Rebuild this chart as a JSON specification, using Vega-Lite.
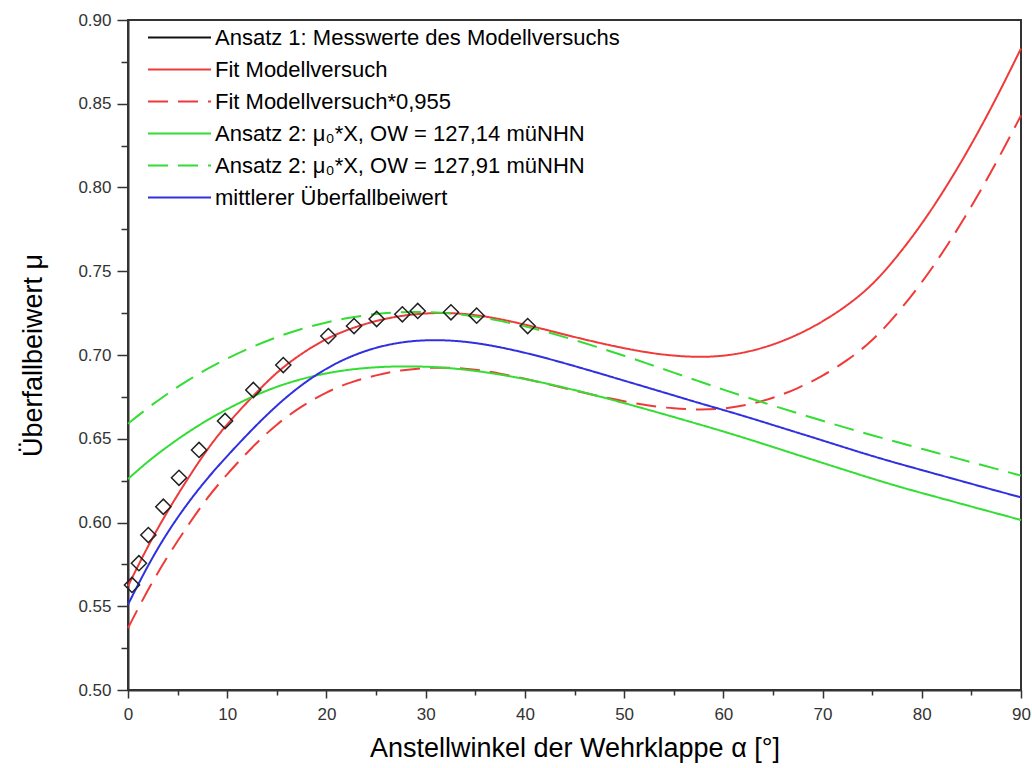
{
  "$schema": "https://vega.github.io/schema/vega-lite/v6.json",
  "width": 893,
  "height": 670,
  "autosize": {"type": "none"},
  "padding": {"left": 128, "top": 20, "right": 11, "bottom": 78},
  "background": "white",
  "config": {
    "font": "Liberation Sans",
    "view": {"stroke": "#333333", "strokeWidth": 2}
  },
  "datasets": {
    "curves": [
      {"series": "Fit Modellversuch", "x": 0, "y": 0.562},
      {"series": "Fit Modellversuch", "x": 2, "y": 0.586},
      {"series": "Fit Modellversuch", "x": 4, "y": 0.607},
      {"series": "Fit Modellversuch", "x": 6, "y": 0.626},
      {"series": "Fit Modellversuch", "x": 8, "y": 0.644},
      {"series": "Fit Modellversuch", "x": 10, "y": 0.659},
      {"series": "Fit Modellversuch", "x": 12.5, "y": 0.675},
      {"series": "Fit Modellversuch", "x": 15, "y": 0.69},
      {"series": "Fit Modellversuch", "x": 17.5, "y": 0.701},
      {"series": "Fit Modellversuch", "x": 20, "y": 0.71},
      {"series": "Fit Modellversuch", "x": 22.5, "y": 0.716},
      {"series": "Fit Modellversuch", "x": 25, "y": 0.7205},
      {"series": "Fit Modellversuch", "x": 27.5, "y": 0.7235},
      {"series": "Fit Modellversuch", "x": 30, "y": 0.725},
      {"series": "Fit Modellversuch", "x": 32.5, "y": 0.7252},
      {"series": "Fit Modellversuch", "x": 35, "y": 0.724},
      {"series": "Fit Modellversuch", "x": 37.5, "y": 0.7215},
      {"series": "Fit Modellversuch", "x": 40, "y": 0.7182},
      {"series": "Fit Modellversuch", "x": 42.5, "y": 0.7145},
      {"series": "Fit Modellversuch", "x": 45, "y": 0.7107},
      {"series": "Fit Modellversuch", "x": 47.5, "y": 0.7072},
      {"series": "Fit Modellversuch", "x": 50, "y": 0.704},
      {"series": "Fit Modellversuch", "x": 52.5, "y": 0.7013},
      {"series": "Fit Modellversuch", "x": 55, "y": 0.6995},
      {"series": "Fit Modellversuch", "x": 57.5, "y": 0.6987},
      {"series": "Fit Modellversuch", "x": 60, "y": 0.6993},
      {"series": "Fit Modellversuch", "x": 62.5, "y": 0.7018},
      {"series": "Fit Modellversuch", "x": 65, "y": 0.706},
      {"series": "Fit Modellversuch", "x": 67.5, "y": 0.712},
      {"series": "Fit Modellversuch", "x": 70, "y": 0.7198},
      {"series": "Fit Modellversuch", "x": 72.5, "y": 0.7295},
      {"series": "Fit Modellversuch", "x": 75, "y": 0.7415},
      {"series": "Fit Modellversuch", "x": 77.5, "y": 0.7585},
      {"series": "Fit Modellversuch", "x": 80, "y": 0.778},
      {"series": "Fit Modellversuch", "x": 82.5, "y": 0.8005},
      {"series": "Fit Modellversuch", "x": 85, "y": 0.8255},
      {"series": "Fit Modellversuch", "x": 87.5, "y": 0.853},
      {"series": "Fit Modellversuch", "x": 90, "y": 0.883},

      {"series": "Fit Modellversuch*0,955", "x": 0, "y": 0.537},
      {"series": "Fit Modellversuch*0,955", "x": 2, "y": 0.56},
      {"series": "Fit Modellversuch*0,955", "x": 4, "y": 0.58},
      {"series": "Fit Modellversuch*0,955", "x": 6, "y": 0.598},
      {"series": "Fit Modellversuch*0,955", "x": 8, "y": 0.615},
      {"series": "Fit Modellversuch*0,955", "x": 10, "y": 0.629},
      {"series": "Fit Modellversuch*0,955", "x": 12.5, "y": 0.645},
      {"series": "Fit Modellversuch*0,955", "x": 15, "y": 0.659},
      {"series": "Fit Modellversuch*0,955", "x": 17.5, "y": 0.6695},
      {"series": "Fit Modellversuch*0,955", "x": 20, "y": 0.678},
      {"series": "Fit Modellversuch*0,955", "x": 22.5, "y": 0.684},
      {"series": "Fit Modellversuch*0,955", "x": 25, "y": 0.688},
      {"series": "Fit Modellversuch*0,955", "x": 27.5, "y": 0.691},
      {"series": "Fit Modellversuch*0,955", "x": 30, "y": 0.6924},
      {"series": "Fit Modellversuch*0,955", "x": 32.5, "y": 0.6926},
      {"series": "Fit Modellversuch*0,955", "x": 35, "y": 0.6914},
      {"series": "Fit Modellversuch*0,955", "x": 37.5, "y": 0.689},
      {"series": "Fit Modellversuch*0,955", "x": 40, "y": 0.6859},
      {"series": "Fit Modellversuch*0,955", "x": 42.5, "y": 0.6823},
      {"series": "Fit Modellversuch*0,955", "x": 45, "y": 0.6787},
      {"series": "Fit Modellversuch*0,955", "x": 47.5, "y": 0.6754},
      {"series": "Fit Modellversuch*0,955", "x": 50, "y": 0.6723},
      {"series": "Fit Modellversuch*0,955", "x": 52.5, "y": 0.6697},
      {"series": "Fit Modellversuch*0,955", "x": 55, "y": 0.668},
      {"series": "Fit Modellversuch*0,955", "x": 57.5, "y": 0.6673},
      {"series": "Fit Modellversuch*0,955", "x": 60, "y": 0.6678},
      {"series": "Fit Modellversuch*0,955", "x": 62.5, "y": 0.6702},
      {"series": "Fit Modellversuch*0,955", "x": 65, "y": 0.6742},
      {"series": "Fit Modellversuch*0,955", "x": 67.5, "y": 0.68},
      {"series": "Fit Modellversuch*0,955", "x": 70, "y": 0.6874},
      {"series": "Fit Modellversuch*0,955", "x": 72.5, "y": 0.6967},
      {"series": "Fit Modellversuch*0,955", "x": 75, "y": 0.7081},
      {"series": "Fit Modellversuch*0,955", "x": 77.5, "y": 0.7244},
      {"series": "Fit Modellversuch*0,955", "x": 80, "y": 0.743},
      {"series": "Fit Modellversuch*0,955", "x": 82.5, "y": 0.7645},
      {"series": "Fit Modellversuch*0,955", "x": 85, "y": 0.7884},
      {"series": "Fit Modellversuch*0,955", "x": 87.5, "y": 0.8146},
      {"series": "Fit Modellversuch*0,955", "x": 90, "y": 0.843},

      {"series": "Ansatz 2: μ₀*X, OW = 127,14 müNHN", "x": 0, "y": 0.626},
      {"series": "Ansatz 2: μ₀*X, OW = 127,14 müNHN", "x": 2, "y": 0.6365},
      {"series": "Ansatz 2: μ₀*X, OW = 127,14 müNHN", "x": 4, "y": 0.6455},
      {"series": "Ansatz 2: μ₀*X, OW = 127,14 müNHN", "x": 6, "y": 0.6538},
      {"series": "Ansatz 2: μ₀*X, OW = 127,14 müNHN", "x": 8, "y": 0.6612},
      {"series": "Ansatz 2: μ₀*X, OW = 127,14 müNHN", "x": 10, "y": 0.6678},
      {"series": "Ansatz 2: μ₀*X, OW = 127,14 müNHN", "x": 12.5, "y": 0.6752},
      {"series": "Ansatz 2: μ₀*X, OW = 127,14 müNHN", "x": 15, "y": 0.6812},
      {"series": "Ansatz 2: μ₀*X, OW = 127,14 müNHN", "x": 17.5, "y": 0.6858},
      {"series": "Ansatz 2: μ₀*X, OW = 127,14 müNHN", "x": 20, "y": 0.6892},
      {"series": "Ansatz 2: μ₀*X, OW = 127,14 müNHN", "x": 22.5, "y": 0.6915},
      {"series": "Ansatz 2: μ₀*X, OW = 127,14 müNHN", "x": 25, "y": 0.6928},
      {"series": "Ansatz 2: μ₀*X, OW = 127,14 müNHN", "x": 27.5, "y": 0.6933},
      {"series": "Ansatz 2: μ₀*X, OW = 127,14 müNHN", "x": 30, "y": 0.6931},
      {"series": "Ansatz 2: μ₀*X, OW = 127,14 müNHN", "x": 32.5, "y": 0.6922},
      {"series": "Ansatz 2: μ₀*X, OW = 127,14 müNHN", "x": 35, "y": 0.6906},
      {"series": "Ansatz 2: μ₀*X, OW = 127,14 müNHN", "x": 37.5, "y": 0.6884},
      {"series": "Ansatz 2: μ₀*X, OW = 127,14 müNHN", "x": 40, "y": 0.6857},
      {"series": "Ansatz 2: μ₀*X, OW = 127,14 müNHN", "x": 42.5, "y": 0.6826},
      {"series": "Ansatz 2: μ₀*X, OW = 127,14 müNHN", "x": 45, "y": 0.6791},
      {"series": "Ansatz 2: μ₀*X, OW = 127,14 müNHN", "x": 47.5, "y": 0.6753},
      {"series": "Ansatz 2: μ₀*X, OW = 127,14 müNHN", "x": 50, "y": 0.6713},
      {"series": "Ansatz 2: μ₀*X, OW = 127,14 müNHN", "x": 52.5, "y": 0.6672},
      {"series": "Ansatz 2: μ₀*X, OW = 127,14 müNHN", "x": 55, "y": 0.663},
      {"series": "Ansatz 2: μ₀*X, OW = 127,14 müNHN", "x": 57.5, "y": 0.6587},
      {"series": "Ansatz 2: μ₀*X, OW = 127,14 müNHN", "x": 60, "y": 0.6544},
      {"series": "Ansatz 2: μ₀*X, OW = 127,14 müNHN", "x": 62.5, "y": 0.6498},
      {"series": "Ansatz 2: μ₀*X, OW = 127,14 müNHN", "x": 65, "y": 0.6451},
      {"series": "Ansatz 2: μ₀*X, OW = 127,14 müNHN", "x": 67.5, "y": 0.6403},
      {"series": "Ansatz 2: μ₀*X, OW = 127,14 müNHN", "x": 70, "y": 0.6356},
      {"series": "Ansatz 2: μ₀*X, OW = 127,14 müNHN", "x": 72.5, "y": 0.6309},
      {"series": "Ansatz 2: μ₀*X, OW = 127,14 müNHN", "x": 75, "y": 0.6262},
      {"series": "Ansatz 2: μ₀*X, OW = 127,14 müNHN", "x": 77.5, "y": 0.6217},
      {"series": "Ansatz 2: μ₀*X, OW = 127,14 müNHN", "x": 80, "y": 0.6176},
      {"series": "Ansatz 2: μ₀*X, OW = 127,14 müNHN", "x": 82.5, "y": 0.6136},
      {"series": "Ansatz 2: μ₀*X, OW = 127,14 müNHN", "x": 85, "y": 0.6095},
      {"series": "Ansatz 2: μ₀*X, OW = 127,14 müNHN", "x": 87.5, "y": 0.6055},
      {"series": "Ansatz 2: μ₀*X, OW = 127,14 müNHN", "x": 90, "y": 0.6015},

      {"series": "Ansatz 2: μ₀*X, OW = 127,91 müNHN", "x": 0, "y": 0.659},
      {"series": "Ansatz 2: μ₀*X, OW = 127,91 müNHN", "x": 2, "y": 0.6685},
      {"series": "Ansatz 2: μ₀*X, OW = 127,91 müNHN", "x": 4, "y": 0.677},
      {"series": "Ansatz 2: μ₀*X, OW = 127,91 müNHN", "x": 6, "y": 0.6848},
      {"series": "Ansatz 2: μ₀*X, OW = 127,91 müNHN", "x": 8, "y": 0.6918},
      {"series": "Ansatz 2: μ₀*X, OW = 127,91 müNHN", "x": 10, "y": 0.698},
      {"series": "Ansatz 2: μ₀*X, OW = 127,91 müNHN", "x": 12.5, "y": 0.7049},
      {"series": "Ansatz 2: μ₀*X, OW = 127,91 müNHN", "x": 15, "y": 0.7108},
      {"series": "Ansatz 2: μ₀*X, OW = 127,91 müNHN", "x": 17.5, "y": 0.7157},
      {"series": "Ansatz 2: μ₀*X, OW = 127,91 müNHN", "x": 20, "y": 0.7196},
      {"series": "Ansatz 2: μ₀*X, OW = 127,91 müNHN", "x": 22.5, "y": 0.7226},
      {"series": "Ansatz 2: μ₀*X, OW = 127,91 müNHN", "x": 25, "y": 0.7246},
      {"series": "Ansatz 2: μ₀*X, OW = 127,91 müNHN", "x": 27.5, "y": 0.7257},
      {"series": "Ansatz 2: μ₀*X, OW = 127,91 müNHN", "x": 30, "y": 0.7258},
      {"series": "Ansatz 2: μ₀*X, OW = 127,91 müNHN", "x": 32.5, "y": 0.7249},
      {"series": "Ansatz 2: μ₀*X, OW = 127,91 müNHN", "x": 35, "y": 0.7231},
      {"series": "Ansatz 2: μ₀*X, OW = 127,91 müNHN", "x": 37.5, "y": 0.7205},
      {"series": "Ansatz 2: μ₀*X, OW = 127,91 müNHN", "x": 40, "y": 0.7172},
      {"series": "Ansatz 2: μ₀*X, OW = 127,91 müNHN", "x": 42.5, "y": 0.7133},
      {"series": "Ansatz 2: μ₀*X, OW = 127,91 müNHN", "x": 45, "y": 0.709},
      {"series": "Ansatz 2: μ₀*X, OW = 127,91 müNHN", "x": 47.5, "y": 0.7044},
      {"series": "Ansatz 2: μ₀*X, OW = 127,91 müNHN", "x": 50, "y": 0.6996},
      {"series": "Ansatz 2: μ₀*X, OW = 127,91 müNHN", "x": 52.5, "y": 0.6946},
      {"series": "Ansatz 2: μ₀*X, OW = 127,91 müNHN", "x": 55, "y": 0.6895},
      {"series": "Ansatz 2: μ₀*X, OW = 127,91 müNHN", "x": 57.5, "y": 0.6844},
      {"series": "Ansatz 2: μ₀*X, OW = 127,91 müNHN", "x": 60, "y": 0.6793},
      {"series": "Ansatz 2: μ₀*X, OW = 127,91 müNHN", "x": 62.5, "y": 0.6745},
      {"series": "Ansatz 2: μ₀*X, OW = 127,91 müNHN", "x": 65, "y": 0.6698},
      {"series": "Ansatz 2: μ₀*X, OW = 127,91 müNHN", "x": 67.5, "y": 0.6652},
      {"series": "Ansatz 2: μ₀*X, OW = 127,91 müNHN", "x": 70, "y": 0.6607},
      {"series": "Ansatz 2: μ₀*X, OW = 127,91 müNHN", "x": 72.5, "y": 0.6563},
      {"series": "Ansatz 2: μ₀*X, OW = 127,91 müNHN", "x": 75, "y": 0.6521},
      {"series": "Ansatz 2: μ₀*X, OW = 127,91 müNHN", "x": 77.5, "y": 0.648},
      {"series": "Ansatz 2: μ₀*X, OW = 127,91 müNHN", "x": 80, "y": 0.644},
      {"series": "Ansatz 2: μ₀*X, OW = 127,91 müNHN", "x": 82.5, "y": 0.64},
      {"series": "Ansatz 2: μ₀*X, OW = 127,91 müNHN", "x": 85, "y": 0.636},
      {"series": "Ansatz 2: μ₀*X, OW = 127,91 müNHN", "x": 87.5, "y": 0.632},
      {"series": "Ansatz 2: μ₀*X, OW = 127,91 müNHN", "x": 90, "y": 0.628},

      {"series": "mittlerer Überfallbeiwert", "x": 0, "y": 0.551},
      {"series": "mittlerer Überfallbeiwert", "x": 2, "y": 0.5745},
      {"series": "mittlerer Überfallbeiwert", "x": 4, "y": 0.5945},
      {"series": "mittlerer Überfallbeiwert", "x": 6, "y": 0.6115},
      {"series": "mittlerer Überfallbeiwert", "x": 8, "y": 0.6265},
      {"series": "mittlerer Überfallbeiwert", "x": 10, "y": 0.6398},
      {"series": "mittlerer Überfallbeiwert", "x": 12.5, "y": 0.6556},
      {"series": "mittlerer Überfallbeiwert", "x": 15, "y": 0.6701},
      {"series": "mittlerer Überfallbeiwert", "x": 17.5, "y": 0.6824},
      {"series": "mittlerer Überfallbeiwert", "x": 20, "y": 0.6922},
      {"series": "mittlerer Überfallbeiwert", "x": 22.5, "y": 0.6995},
      {"series": "mittlerer Überfallbeiwert", "x": 25, "y": 0.7046},
      {"series": "mittlerer Überfallbeiwert", "x": 27.5, "y": 0.7077},
      {"series": "mittlerer Überfallbeiwert", "x": 30, "y": 0.709},
      {"series": "mittlerer Überfallbeiwert", "x": 32.5, "y": 0.7088},
      {"series": "mittlerer Überfallbeiwert", "x": 35, "y": 0.7073},
      {"series": "mittlerer Überfallbeiwert", "x": 37.5, "y": 0.7047},
      {"series": "mittlerer Überfallbeiwert", "x": 40, "y": 0.7014},
      {"series": "mittlerer Überfallbeiwert", "x": 42.5, "y": 0.6976},
      {"series": "mittlerer Überfallbeiwert", "x": 45, "y": 0.6934},
      {"series": "mittlerer Überfallbeiwert", "x": 47.5, "y": 0.6891},
      {"series": "mittlerer Überfallbeiwert", "x": 50, "y": 0.6847},
      {"series": "mittlerer Überfallbeiwert", "x": 52.5, "y": 0.6803},
      {"series": "mittlerer Überfallbeiwert", "x": 55, "y": 0.6759},
      {"series": "mittlerer Überfallbeiwert", "x": 57.5, "y": 0.6714},
      {"series": "mittlerer Überfallbeiwert", "x": 60, "y": 0.6672},
      {"series": "mittlerer Überfallbeiwert", "x": 62.5, "y": 0.6628},
      {"series": "mittlerer Überfallbeiwert", "x": 65, "y": 0.6582},
      {"series": "mittlerer Überfallbeiwert", "x": 67.5, "y": 0.6536},
      {"series": "mittlerer Überfallbeiwert", "x": 70, "y": 0.649},
      {"series": "mittlerer Überfallbeiwert", "x": 72.5, "y": 0.6443},
      {"series": "mittlerer Überfallbeiwert", "x": 75, "y": 0.6397},
      {"series": "mittlerer Überfallbeiwert", "x": 77.5, "y": 0.6354},
      {"series": "mittlerer Überfallbeiwert", "x": 80, "y": 0.6313},
      {"series": "mittlerer Überfallbeiwert", "x": 82.5, "y": 0.6272},
      {"series": "mittlerer Überfallbeiwert", "x": 85, "y": 0.6231},
      {"series": "mittlerer Überfallbeiwert", "x": 87.5, "y": 0.619},
      {"series": "mittlerer Überfallbeiwert", "x": 90, "y": 0.615}
    ],
    "points": [
      {"x": 0.4, "y": 0.5627},
      {"x": 1.1, "y": 0.5757},
      {"x": 2.05, "y": 0.5925},
      {"x": 3.56, "y": 0.6094},
      {"x": 5.14, "y": 0.6267},
      {"x": 7.16, "y": 0.6433},
      {"x": 9.78, "y": 0.6606},
      {"x": 12.63, "y": 0.6791},
      {"x": 15.65, "y": 0.694},
      {"x": 20.19, "y": 0.7113},
      {"x": 22.78, "y": 0.7173},
      {"x": 25.06, "y": 0.7215},
      {"x": 27.65, "y": 0.7243},
      {"x": 29.2, "y": 0.7263},
      {"x": 32.55, "y": 0.7255},
      {"x": 35.14, "y": 0.7235},
      {"x": 40.28, "y": 0.7173}
    ]
  },
  "layer": [
    {
      "data": {"name": "curves"},
      "mark": {"type": "line", "strokeWidth": 2, "interpolate": "basis"},
      "encoding": {
        "x": {
          "field": "x",
          "type": "quantitative",
          "scale": {"domain": [0, 90], "nice": false, "zero": false},
          "axis": {
            "title": "Anstellwinkel der Wehrklappe α [°]",
            "titleFontSize": 27,
            "titleFontWeight": "normal",
            "titleColor": "black",
            "titlePadding": 13,
            "values": [0, 5, 10, 15, 20, 25, 30, 35, 40, 45, 50, 55, 60, 65, 70, 75, 80, 85, 90],
            "labelExpr": "datum.value % 10 == 0 ? datum.label : ''",
            "labelFontSize": 17,
            "labelColor": "#333333",
            "labelPadding": 8,
            "labelFlush": false,
            "grid": false,
            "domainColor": "#333333",
            "domainWidth": 2,
            "tickColor": "#333333",
            "tickWidth": 1.5,
            "tickSize": {"condition": {"test": "datum.value % 10 == 0", "value": 8}, "value": 5}
          }
        },
        "y": {
          "field": "y",
          "type": "quantitative",
          "scale": {"domain": [0.5, 0.9], "nice": false, "zero": false},
          "axis": {
            "title": "Überfallbeiwert μ",
            "titleFontSize": 27,
            "titleFontWeight": "normal",
            "titleColor": "black",
            "titlePadding": 30,
            "values": [0.5, 0.525, 0.55, 0.575, 0.6, 0.625, 0.65, 0.675, 0.7, 0.725, 0.75, 0.775, 0.8, 0.825, 0.85, 0.875, 0.9],
            "labelExpr": "abs(datum.value * 20 - round(datum.value * 20)) < 0.01 ? format(datum.value, '.2f') : ''",
            "labelFontSize": 17,
            "labelColor": "#333333",
            "labelPadding": 6,
            "labelFlush": false,
            "grid": false,
            "domainColor": "#333333",
            "domainWidth": 2,
            "tickColor": "#333333",
            "tickWidth": 1.5,
            "tickSize": {"condition": {"test": "abs(datum.value * 20 - round(datum.value * 20)) < 0.01", "value": 11}, "value": 7}
          }
        },
        "color": {
          "field": "series",
          "type": "nominal",
          "scale": {
            "domain": ["Ansatz 1: Messwerte des Modellversuchs", "Fit Modellversuch", "Fit Modellversuch*0,955", "Ansatz 2: μ₀*X, OW = 127,14 müNHN", "Ansatz 2: μ₀*X, OW = 127,91 müNHN", "mittlerer Überfallbeiwert"],
            "range": ["#111111", "#f03a3a", "#f03a3a", "#33dd33", "#33dd33", "#3030e0"]
          },
          "legend": {
            "title": null,
            "orient": "none",
            "legendX": 40,
            "legendY": 6,
            "symbolType": "M-3,0H3",
            "symbolSize": 441,
            "symbolStrokeWidth": 2,
            "labelFontSize": 22,
            "labelColor": "black",
            "labelOffset": 24,
            "labelLimit": 600,
            "rowPadding": 9,
            "padding": 0
          }
        },
        "strokeDash": {
          "field": "series",
          "type": "nominal",
          "scale": {
            "domain": ["Ansatz 1: Messwerte des Modellversuchs", "Fit Modellversuch", "Fit Modellversuch*0,955", "Ansatz 2: μ₀*X, OW = 127,14 müNHN", "Ansatz 2: μ₀*X, OW = 127,91 müNHN", "mittlerer Überfallbeiwert"],
            "range": [[1, 0], [1, 0], [20, 10], [1, 0], [20, 10], [1, 0]]
          },
          "legend": {
            "title": null,
            "orient": "none",
            "legendX": 40,
            "legendY": 6,
            "symbolType": "M-3,0H3",
            "symbolSize": 441,
            "symbolStrokeWidth": 2,
            "labelFontSize": 22,
            "labelColor": "black",
            "labelOffset": 24,
            "labelLimit": 600,
            "rowPadding": 9,
            "padding": 0
          }
        }
      }
    },
    {
      "data": {"name": "points"},
      "mark": {"type": "point", "shape": "diamond", "size": 230, "filled": false, "stroke": "#222222", "strokeWidth": 1.5, "opacity": 1},
      "encoding": {
        "x": {"field": "x", "type": "quantitative"},
        "y": {"field": "y", "type": "quantitative"}
      }
    }
  ]
}
